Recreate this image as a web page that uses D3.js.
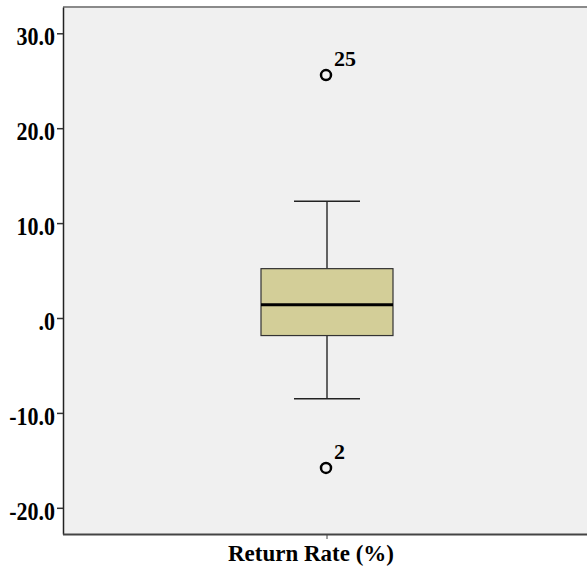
<!DOCTYPE html>
<html>
<head>
<meta charset="utf-8">
<script src="https://cdn.jsdelivr.net/npm/d3@7"></script>
<style>
  body { margin: 0; background: #fff; }
  svg text { font-family: "Liberation Serif", "Times New Roman", serif; font-weight: bold; }
</style>
</head>
<body>
<svg id="chart"></svg>
<script>
// data
const categories = ["Return Rate (%)"];
const boxStats = [{ min: -8.5, q1: -1.85, median: 1.4, q3: 5.2, max: 12.3 }];
const outlierValues = [25.6, -15.8];
const outlierLabels = ["25", "2"];
const yTicks = [30, 20, 10, 0, -10, -20];

const w = 587, h = 568;
const padLeft = 63, padTop = 7, plotBottom = 534, plotRight = 591;

const svg = d3.select("#chart").attr("width", w).attr("height", h);

const yScale = d3.scaleLinear().domain([-22.76, 32.77]).range([plotBottom, padTop]);
const xScale = d3.scaleBand().domain(categories).range([padLeft, plotRight]).paddingOuter(1.5).paddingInner(0);

// plot background
svg.append("rect")
   .attr("x", padLeft).attr("y", padTop)
   .attr("width", w - padLeft).attr("height", plotBottom - padTop)
   .attr("fill", "#f0f0f0");

// top border
svg.append("line")
   .attr("x1", padLeft).attr("x2", w).attr("y1", padTop).attr("y2", padTop)
   .attr("stroke", "#8a8a8a").attr("stroke-width", 2);

// tick label format like SPSS: ".0", "30.0", "-10.0"
const fmt = d => d === 0 ? ".0" : d3.format(".1f")(d).replace("−", "-");

const axisY = d3.axisLeft(yScale).tickValues(yTicks).tickFormat(fmt).tickSize(6).tickSizeOuter(0);
const gy = svg.append("g").attr("transform", `translate(${padLeft},0)`).call(axisY);
gy.select(".domain").attr("stroke", "#222").attr("stroke-width", 1.5);
gy.selectAll(".tick line").attr("stroke", "#333").attr("stroke-width", 1.5);
gy.selectAll(".tick text").attr("font-size", 22).attr("fill", "#000").attr("x", -8).attr("dy", "0.47em")
  .attr("transform", "scale(1,1.1)")
  .style("font-family", '"Liberation Serif", serif').style("font-weight", "bold");

const axisX = d3.axisBottom(xScale).tickSize(5).tickSizeOuter(0);
const gx = svg.append("g").attr("transform", `translate(0,${plotBottom})`).call(axisX);
gx.select(".domain").attr("d", `M${padLeft},0.5H${w}`).attr("stroke", "#444").attr("stroke-width", 2);
gx.selectAll(".tick line").attr("stroke", "#444");
gx.selectAll(".tick text").attr("font-size", 23).attr("fill", "#000").attr("y", 27).attr("dy", 0).attr("dx", -16)
  .style("font-family", '"Liberation Serif", serif').style("font-weight", "bold");

// box plot
const bw = xScale.bandwidth();
const g = svg.append("g");
boxStats.forEach((s, i) => {
  const x0 = xScale(categories[i]);
  const cx = x0 + bw / 2;
  const capW = bw / 2;

  // whiskers
  g.append("line").attr("x1", cx).attr("x2", cx).attr("y1", yScale(s.max)).attr("y2", yScale(s.q3))
   .attr("stroke", "#333").attr("stroke-width", 1.5);
  g.append("line").attr("x1", cx).attr("x2", cx).attr("y1", yScale(s.q1)).attr("y2", yScale(s.min))
   .attr("stroke", "#333").attr("stroke-width", 1.5);
  [s.max, s.min].forEach(v => {
    g.append("line").attr("x1", cx - capW / 2).attr("x2", cx + capW / 2)
     .attr("y1", yScale(v)).attr("y2", yScale(v))
     .attr("stroke", "#222").attr("stroke-width", 1.5);
  });

  // box
  g.append("rect")
   .attr("x", x0).attr("y", yScale(s.q3))
   .attr("width", bw).attr("height", yScale(s.q1) - yScale(s.q3))
   .attr("fill", "#d3ce98").attr("stroke", "#333").attr("stroke-width", 1.2);

  // median
  g.append("line").attr("x1", x0).attr("x2", x0 + bw)
   .attr("y1", yScale(s.median)).attr("y2", yScale(s.median))
   .attr("stroke", "#000").attr("stroke-width", 3);

  // outliers
  outlierValues.forEach((v, j) => {
    g.append("circle").attr("cx", cx - 1).attr("cy", yScale(v)).attr("r", 5)
     .attr("fill", "none").attr("stroke", "#000").attr("stroke-width", 2.5);
    g.append("text").attr("x", cx + 7).attr("y", yScale(v) - 9)
     .attr("font-size", 22).attr("fill", "#000").text(outlierLabels[j]);
  });
});
</script>
</body>
</html>
